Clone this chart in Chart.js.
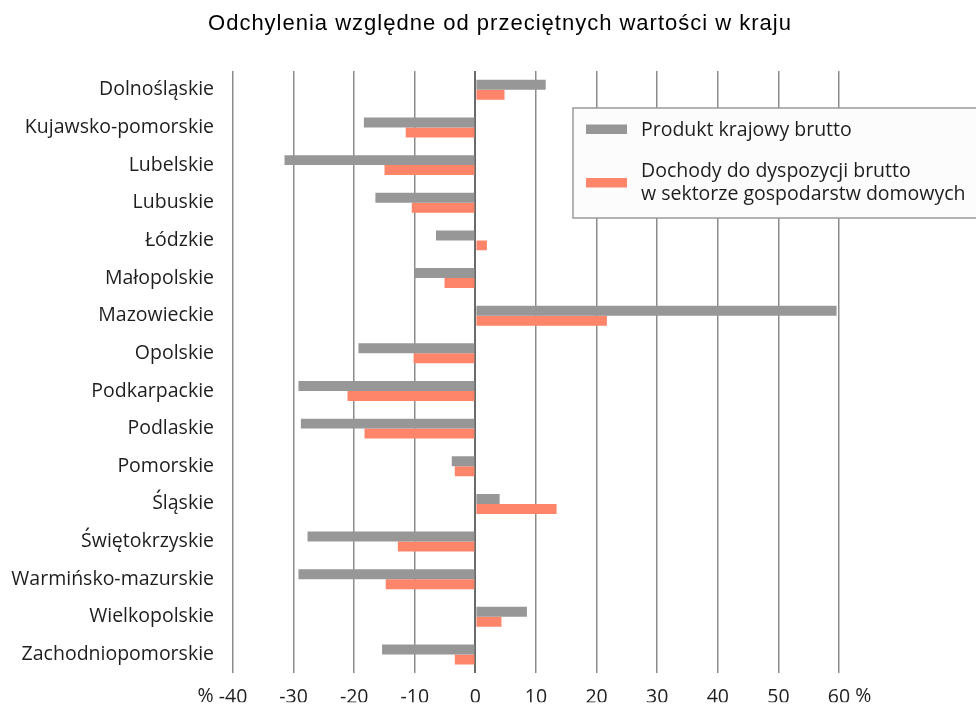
<!DOCTYPE html>
<html>
<head>
<meta charset="utf-8">
<script src="https://cdn.jsdelivr.net/npm/chart.js@4/dist/chart.umd.min.js"></script>
<style>
html,body{margin:0;padding:0;background:#fff;}
#wrap{width:976px;height:704px;position:relative;}
</style>
</head>
<body>
<div id="wrap"><canvas id="c" width="976" height="704"></canvas></div>
<script>
const titleText = 'Odchylenia względne od przeciętnych wartości w kraju';
const categories = ['Dolnośląskie','Kujawsko-pomorskie','Lubelskie','Lubuskie','Łódzkie','Małopolskie','Mazowieckie','Opolskie','Podkarpackie','Podlaskie','Pomorskie','Śląskie','Świętokrzyskie','Warmińsko-mazurskie','Wielkopolskie','Zachodniopomorskie'];
const seriesNames = [['Produkt krajowy brutto'], ['Dochody do dyspozycji brutto','w sektorze gospodarstw domowych']];
const gdpValues = [11.6, -18.4, -31.5, -16.5, -6.5, -10.0, 59.6, -19.3, -29.2, -28.8, -3.9, 4.0, -27.7, -29.2, 8.5, -15.4];
const incomeValues = [4.8, -11.5, -15.0, -10.5, 1.9, -5.1, 21.7, -10.2, -21.1, -18.3, -3.4, 13.4, -12.8, -14.8, 4.3, -3.4];
const xMin = -40, xMax = 60, xStep = 10;
const unitLabel = '%';

const FONT = '"Open Sans", sans-serif';
const FS = 19.5;
const TXT = '#1e1e1e';
const GRAY = '#969796';
const ORANGE = '#ff856a';

const extras = {
  id: 'extras',
  afterDraw(chart) {
    const ctx = chart.ctx;
    const x = chart.scales.x;
    ctx.save();
    // title
    ctx.fillStyle = '#000';
    ctx.font = '22px "Liberation Sans", Arial, sans-serif';
    ctx.letterSpacing = '1px';
    ctx.textAlign = 'center';
    ctx.textBaseline = 'middle';
    ctx.fillText(titleText, 500, 24);
    ctx.letterSpacing = '0px';
    // percent signs at axis ends
    ctx.fillStyle = TXT;
    ctx.font = FS + 'px ' + FONT;
    const ty = chart.chartArea.bottom + 23;
    const wMin = ctx.measureText(String(xMin)).width;
    const wMax = ctx.measureText(String(xMax)).width;
    ctx.textAlign = 'right';
    ctx.fillText(unitLabel + ' ', x.getPixelForValue(xMin) - wMin / 2, ty);
    ctx.textAlign = 'left';
    ctx.fillText(' ' + unitLabel, x.getPixelForValue(xMax) + wMax / 2, ty);
    // legend
    const bx = 573, by = 108, bw = 410, bh = 110;
    ctx.fillStyle = '#fcfcfc';
    ctx.fillRect(bx, by, bw, bh);
    ctx.strokeStyle = '#9a9a9a';
    ctx.lineWidth = 1.5;
    ctx.strokeRect(bx, by, bw, bh);
    const colors = chart.data.datasets.map(d => d.backgroundColor);
    const entries = [{sy: 124.5, ty: [130]}, {sy: 178, ty: [171, 194]}];
    ctx.font = FS + 'px ' + FONT;
    ctx.textAlign = 'left';
    ctx.textBaseline = 'middle';
    chart.data.datasets.forEach((d, i) => {
      ctx.fillStyle = colors[i];
      ctx.fillRect(586, entries[i].sy, 41, 9.5);
      ctx.fillStyle = TXT;
      d.label.forEach((line, j) => ctx.fillText(line, 641, entries[i].ty[j]));
    });
    ctx.restore();
  }
};

new Chart(document.getElementById('c'), {
  type: 'bar',
  data: {
    labels: categories,
    datasets: [
      {label: seriesNames[0], data: gdpValues, backgroundColor: GRAY, barPercentage: 1, categoryPercentage: 0.53},
      {label: seriesNames[1], data: incomeValues, backgroundColor: ORANGE, barPercentage: 1, categoryPercentage: 0.53}
    ]
  },
  options: {
    indexAxis: 'y',
    responsive: false,
    animation: false,
    layout: {padding: {top: 71, right: 137, left: 0, bottom: 0}},
    plugins: {legend: {display: false}, title: {display: false}, tooltip: {enabled: false}},
    scales: {
      x: {
        min: xMin, max: xMax,
        ticks: {stepSize: xStep, color: TXT, font: {family: FONT, size: FS}, padding: 12},
        grid: {
          drawTicks: false,
          color: c => c.tick && c.tick.value === 0 ? '#6a6a6a' : '#8c8c8c',
          lineWidth: c => c.tick && c.tick.value === 0 ? 2 : 1.5
        },
        border: {display: false},
        afterFit: s => { s.height = 29; }
      },
      y: {
        ticks: {color: TXT, font: {family: FONT, size: FS}, padding: 19},
        grid: {display: false, drawTicks: false},
        border: {display: false},
        afterFit: s => { s.width = 233; }
      }
    }
  },
  plugins: [extras]
});
</script>
</body>
</html>
